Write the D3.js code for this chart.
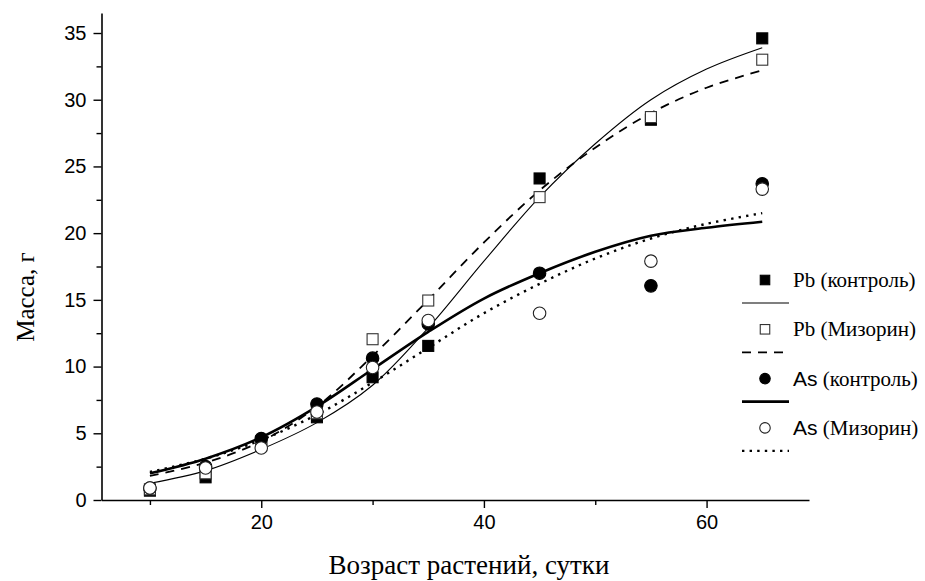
<!DOCTYPE html>
<html>
<head>
<meta charset="utf-8">
<script src="https://cdn.jsdelivr.net/npm/d3@7"></script>
<style>
  html, body { margin: 0; padding: 0; background: #fff; }
  svg { display: block; }
</style>
</head>
<body>
<svg id="chart" width="925" height="581"></svg>
<script>
// Measurement days
const days = [10, 15, 20, 25, 30, 35, 45, 55, 65];

// Observed mass, g
const pbControl = [0.7, 1.7, 4.3, 6.2, 9.2, 11.55, 24.1, 28.5, 34.6];
const pbMizorin = [0.8, 2.0, 4.4, 6.5, 12.05, 14.95, 22.7, 28.7, 33.0];
const asControl = [0.9, 2.5, 4.6, 7.2, 10.63, 13.2, 17.0, 16.05, 23.7];
const asMizorin = [0.9, 2.4, 3.9, 6.6, 9.93, 13.45, 14.0, 17.9, 23.3];

// Fitted growth curves, sampled every 5 days
const fitDays = [10, 15, 20, 25, 30, 35, 40, 45, 50, 55, 60, 65];
const pbControlFit = [1.25, 2.2, 3.8, 5.8, 8.6, 12.9, 17.9, 22.7, 26.7, 30.0, 32.3, 33.9];
const pbMizorinFit = [1.8, 2.8, 4.4, 7.0, 10.8, 15.0, 19.3, 23.2, 26.4, 29.0, 30.9, 32.2];
const asControlFit = [2.0, 3.1, 4.7, 7.0, 9.8, 12.6, 15.1, 17.0, 18.6, 19.8, 20.4, 20.85];
const asMizorinFit = [2.1, 3.1, 4.5, 6.4, 8.8, 11.4, 14.0, 16.2, 18.1, 19.6, 20.7, 21.5];

// Axis ticks
const xMajorTicks = [20, 40, 60];
const xMinorTicks = [10, 30, 50];
const yMajorTicks = [0, 5, 10, 15, 20, 25, 30, 35];
const yMinorTicks = [2.5, 7.5, 12.5, 17.5, 22.5, 27.5, 32.5];

const xTitle = "Возраст растений, сутки";
const yTitle = "Масса, г";

const legendItems = [
  { el: "Pb", note: " (контроль)", marker: "squareFilled", line: "thin" },
  { el: "Pb", note: " (Мизорин)", marker: "squareOpen", line: "dashed" },
  { el: "As", note: " (контроль)", marker: "circleFilled", line: "thick" },
  { el: "As", note: " (Мизорин)", marker: "circleOpen", line: "dotted" }
];

const svg = d3.select("#chart");
const serif = "'Liberation Serif', 'Times New Roman', serif";
const sans = "'Liberation Sans', Arial, sans-serif";

const x = d3.scaleLinear().domain([5.65, 69.2]).range([101.5, 809]);
const y = d3.scaleLinear().domain([0, 36.5]).range([500, 13]);

const lineStyles = {
  thin:   { width: 1.1, dash: null },
  dashed: { width: 1.8, dash: "9,7" },
  thick:  { width: 2.6, dash: null },
  dotted: { width: 2.4, dash: "2.4,5.2" }
};

// Axes
const gx = svg.append("g").attr("transform", `translate(0,${y(0)})`);
gx.call(d3.axisBottom(x).tickValues(xMajorTicks).tickSize(8).tickSizeOuter(0).tickPadding(7).tickFormat(d3.format("d")));
gx.append("g").call(d3.axisBottom(x).tickValues(xMinorTicks).tickSize(5).tickSizeOuter(0).tickFormat(""))
  .select(".domain").remove();

const gy = svg.append("g").attr("transform", `translate(${x.range()[0]},0)`);
gy.call(d3.axisLeft(y).tickValues(yMajorTicks).tickSize(8).tickSizeOuter(0).tickPadding(7).tickFormat(d3.format("d")));
gy.append("g").call(d3.axisLeft(y).tickValues(yMinorTicks).tickSize(5).tickSizeOuter(0).tickFormat(""))
  .select(".domain").remove();

svg.selectAll(".domain").attr("stroke", "#000").attr("stroke-width", 1.6);
svg.selectAll(".tick line").attr("stroke", "#000").attr("stroke-width", 1.4);
svg.selectAll(".tick text").attr("font-family", sans).attr("font-size", 20).attr("fill", "#000");

// Axis titles
svg.append("text")
  .attr("x", 469).attr("y", 574)
  .attr("text-anchor", "middle")
  .attr("font-family", serif).attr("font-size", 27)
  .text(xTitle);

svg.append("text")
  .attr("transform", `translate(34,${297}) rotate(-90)`)
  .attr("text-anchor", "middle")
  .attr("font-family", serif).attr("font-size", 25)
  .text(yTitle);

// Fitted curves
const curveGen = d3.line()
  .x(d => x(d[0]))
  .y(d => y(d[1]))
  .curve(d3.curveCatmullRom.alpha(0.5));

const fits = [
  { v: pbControlFit, style: "thin" },
  { v: pbMizorinFit, style: "dashed" },
  { v: asControlFit, style: "thick" },
  { v: asMizorinFit, style: "dotted" }
];
fits.forEach(f => {
  const s = lineStyles[f.style];
  svg.append("path")
    .datum(fitDays.map((d, i) => [d, f.v[i]]))
    .attr("d", curveGen)
    .attr("fill", "none")
    .attr("stroke", "#000")
    .attr("stroke-width", s.width)
    .attr("stroke-dasharray", s.dash);
});

// Markers
function drawMarker(g, kind, cx, cy, size) {
  if (kind.startsWith("square")) {
    const filled = kind === "squareFilled";
    g.append("rect")
      .attr("x", cx - size / 2).attr("y", cy - size / 2)
      .attr("width", size).attr("height", size)
      .attr("fill", filled ? "#000" : "#fff")
      .attr("stroke", filled ? "#000" : "#333")
      .attr("stroke-width", 1.1);
  } else {
    const filled = kind === "circleFilled";
    g.append("circle")
      .attr("cx", cx).attr("cy", cy).attr("r", size / 2)
      .attr("fill", filled ? "#000" : "#fff")
      .attr("stroke", filled ? "#000" : "#222")
      .attr("stroke-width", 1.1);
  }
}

const pointSeries = [
  { v: pbControl, marker: "squareFilled", size: 11 },
  { v: pbMizorin, marker: "squareOpen", size: 11 },
  { v: asControl, marker: "circleFilled", size: 12.5 },
  { v: asMizorin, marker: "circleOpen", size: 12.5 }
];
const gPts = svg.append("g");
pointSeries.forEach(s => {
  days.forEach((d, i) => drawMarker(gPts, s.marker, x(d), y(s.v[i]), s.size));
});

// Legend
const gLeg = svg.append("g");
const legTop = 280, legStep = 49.3;
legendItems.forEach((it, i) => {
  const yy = legTop + i * legStep;
  drawMarker(gLeg, it.marker, 765, yy, it.marker.startsWith("square") ? 9.5 : 10.5);
  const t = gLeg.append("text")
    .attr("x", 793).attr("y", yy + 7)
    .attr("font-size", 21).attr("fill", "#000");
  t.append("tspan").attr("font-family", it.el === "As" ? sans : serif).text(it.el);
  t.append("tspan").attr("font-family", serif).text(it.note);
  const s = lineStyles[it.line];
  gLeg.append("line")
    .attr("x1", 742).attr("x2", 789)
    .attr("y1", yy + 23).attr("y2", yy + 23)
    .attr("stroke", "#000")
    .attr("stroke-width", s.width)
    .attr("stroke-dasharray", s.dash);
});
</script>
</body>
</html>
